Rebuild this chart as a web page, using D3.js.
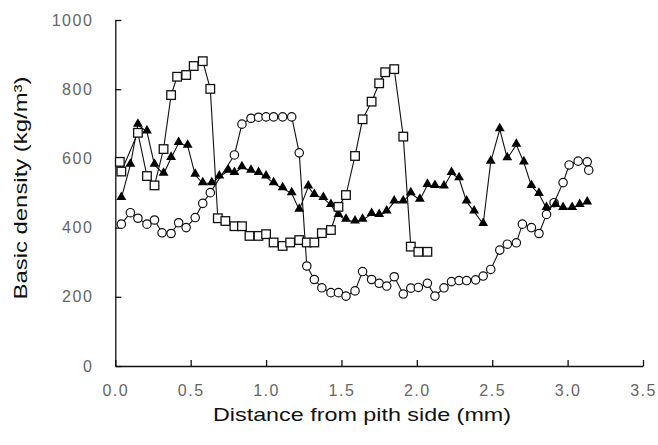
<!DOCTYPE html>
<html>
<head>
<meta charset="utf-8">
<script src="https://cdn.jsdelivr.net/npm/d3@7"></script>
<style>
body { margin: 0; background: #fff; }
svg text { font-family: "Liberation Sans", Arial, sans-serif; }
</style>
</head>
<body>
<script>
// open squares
var squareX = [0.03, 0.04, 0.15, 0.21, 0.26, 0.32, 0.37, 0.41, 0.47, 0.52, 0.58, 0.63, 0.68, 0.73, 0.79, 0.84,
    0.89, 0.95, 1.00, 1.05, 1.11, 1.16, 1.22, 1.27, 1.32, 1.37, 1.43, 1.48, 1.53, 1.59, 1.64, 1.70,
    1.75, 1.79, 1.85, 1.91, 1.96, 2.01, 2.07];
var squareY = [590, 562, 674, 549, 522, 627, 783, 836, 841, 867, 881, 801, 427, 419, 404, 404,
    376, 376, 381, 357, 347, 357, 364, 357, 357, 384, 393, 460, 494, 607, 713, 764,
    817, 849, 858, 663, 345, 330, 330];

// open circles
var circleX = [0.04, 0.10, 0.15, 0.21, 0.26, 0.31, 0.37, 0.42, 0.47, 0.53, 0.58, 0.63, 0.79, 0.84, 0.90, 0.95,
    1.00, 1.05, 1.11, 1.17, 1.22, 1.27, 1.32, 1.37, 1.43, 1.48, 1.53, 1.59, 1.64, 1.70, 1.75, 1.80,
    1.85, 1.91, 1.96, 2.01, 2.07, 2.12, 2.18, 2.23, 2.28, 2.33, 2.39, 2.44, 2.49, 2.55, 2.60, 2.66,
    2.70, 2.76, 2.81, 2.86, 2.91, 2.97, 3.01, 3.07, 3.13, 3.14];
var circleY = [410, 443, 427, 410, 422, 385, 383, 414, 400, 429, 470, 501, 610, 699, 716, 719,
    720, 720, 720, 720, 616, 289, 250, 226, 212, 212, 202, 217, 273, 250, 239, 231,
    258, 208, 225, 227, 239, 202, 226, 244, 247, 247, 249, 260, 279, 335, 352, 356,
    410, 400, 383, 438, 472, 530, 581, 592, 590, 566];

// filled triangles
var triX = [0.04, 0.10, 0.15, 0.21, 0.26, 0.32, 0.37, 0.42, 0.48, 0.53, 0.58, 0.64, 0.69, 0.75, 0.79, 0.84,
    0.90, 0.95, 1.00, 1.05, 1.11, 1.17, 1.22, 1.28, 1.32, 1.38, 1.43, 1.48, 1.53, 1.59, 1.64, 1.70,
    1.75, 1.80, 1.85, 1.91, 1.96, 2.02, 2.07, 2.12, 2.18, 2.23, 2.28, 2.33, 2.38, 2.44, 2.49, 2.55,
    2.60, 2.66, 2.71, 2.76, 2.81, 2.86, 2.92, 2.97, 3.03, 3.08, 3.13];
var triY = [485, 581, 697, 677, 581, 555, 601, 644, 636, 552, 528, 528, 547, 564, 557, 574,
    564, 557, 547, 528, 513, 499, 451, 518, 494, 485, 465, 436, 422, 417, 422, 439,
    436, 446, 475, 475, 499, 480, 523, 520, 518, 557, 542, 475, 446, 410, 590, 684,
    600, 639, 588, 520, 497, 456, 465, 456, 456, 465, 472];

var xTicks = [0, 0.5, 1.0, 1.5, 2.0, 2.5, 3.0, 3.5];
var yTicks = [0, 200, 400, 600, 800, 1000];

function zip(xs, ys)
{
    return xs.map(function(v, i) { return {x: v, y: ys[i]}; });
}

function build_chart()
{
    var svg = d3.select("body").append("svg")
        .attr("width", 658)
        .attr("height", 445);

    svg.append("rect").attr("width", 658).attr("height", 445).attr("fill", "#fff");

    var x = d3.scaleLinear().domain([0, 3.5]).range([115.3, 643]);
    var y = d3.scaleLinear().domain([0, 1000]).range([366, 20]);

    // axes, ticks point inwards
    svg.append("g")
        .attr("transform", "translate(0,366)")
        .call(d3.axisBottom(x).tickValues(xTicks).tickFormat(d3.format(".1f"))
            .tickSizeInner(-6).tickSizeOuter(0).tickPadding(19));

    svg.append("g")
        .attr("transform", "translate(115.3,0)")
        .call(d3.axisLeft(y).tickValues(yTicks).tickFormat(d3.format("d"))
            .tickSizeInner(-6).tickSizeOuter(0).tickPadding(22));

    svg.selectAll(".domain, .tick line")
        .attr("stroke", "#111")
        .attr("stroke-width", 1.3);

    svg.selectAll(".tick text")
        .attr("fill", "#666")
        .style("font-size", "16px")
        .style("letter-spacing", "1.5px");

    var line = d3.line()
        .x(function(d) { return x(d.x); })
        .y(function(d) { return y(d.y); });

    var circles = zip(circleX, circleY);
    var tris = zip(triX, triY);
    var squares = zip(squareX, squareY);

    // circles
    svg.append("path").datum(circles)
        .attr("d", line).attr("fill", "none").attr("stroke", "#111").attr("stroke-width", 1.1);
    svg.selectAll("circle.pt").data(circles).enter().append("circle")
        .attr("class", "pt")
        .attr("cx", function(d) { return x(d.x); })
        .attr("cy", function(d) { return y(d.y); })
        .attr("r", 4.2)
        .attr("fill", "#fff").attr("stroke", "#111").attr("stroke-width", 1.2);

    // triangles
    svg.append("path").datum(tris)
        .attr("d", line).attr("fill", "none").attr("stroke", "#111").attr("stroke-width", 1.1);
    var tri = d3.symbol().type(d3.symbolTriangle).size(42);
    svg.selectAll("path.tri").data(tris).enter().append("path")
        .attr("class", "tri")
        .attr("d", tri)
        .attr("transform", function(d) { return "translate(" + x(d.x) + "," + (y(d.y) - 1) + ")"; })
        .attr("fill", "#000");

    // squares
    svg.append("path").datum(squares)
        .attr("d", line).attr("fill", "none").attr("stroke", "#111").attr("stroke-width", 1.1);
    svg.selectAll("rect.sq").data(squares).enter().append("rect")
        .attr("class", "sq")
        .attr("x", function(d) { return x(d.x) - 4.3; })
        .attr("y", function(d) { return y(d.y) - 4.3; })
        .attr("width", 8.6).attr("height", 8.6)
        .attr("fill", "#fff").attr("stroke", "#111").attr("stroke-width", 1.3);

    // axis titles
    svg.append("text")
        .attr("x", 362).attr("y", 421)
        .attr("text-anchor", "middle")
        .attr("textLength", 298).attr("lengthAdjust", "spacingAndGlyphs")
        .attr("fill", "#111")
        .style("font-size", "19px")
        .text("Distance from pith side (mm)");

    svg.append("text")
        .attr("transform", "translate(27,188) rotate(-90)")
        .attr("text-anchor", "middle")
        .attr("textLength", 223).attr("lengthAdjust", "spacingAndGlyphs")
        .attr("fill", "#111")
        .style("font-size", "19px")
        .text("Basic density (kg/m³)");
}

build_chart();
</script>
</body>
</html>
